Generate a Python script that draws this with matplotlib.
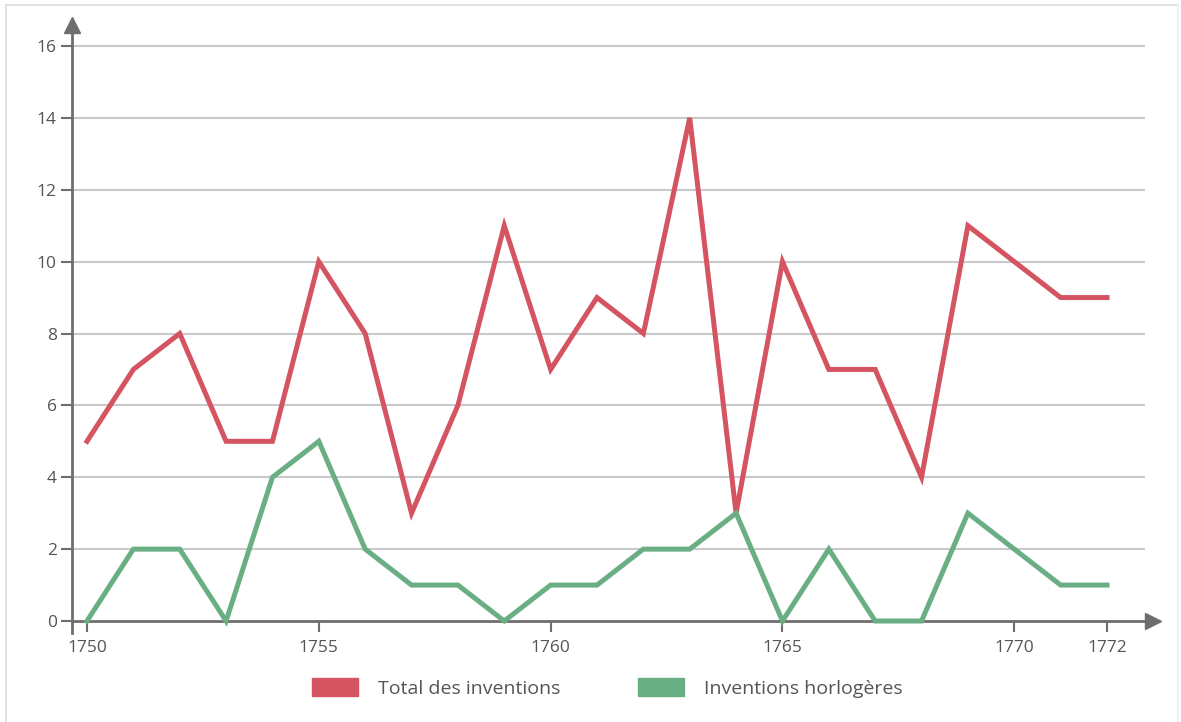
import numpy as np
import matplotlib.pyplot as plt
from matplotlib.patches import Patch
from matplotlib.lines import Line2D

# Données
annees = np.arange(1750, 1773)
total = [5, 7, 8, 5, 5, 10, 8, 3, 6, 11, 7, 9, 8, 14, 3, 10, 7, 7, 4, 11, 10, 9, 9]
horlogeres = [0, 2, 2, 0, 4, 5, 2, 1, 1, 0, 1, 1, 2, 2, 3, 0, 2, 0, 0, 3, 2, 1, 1]
xticks = [1750, 1755, 1760, 1765, 1770, 1772]
yticks = [0, 2, 4, 6, 8, 10, 12, 14, 16]

rouge = '#d45461'
vert = '#6aaf84'
gris = '#6e6e6e'
texte = '#555555'

plt.rcParams['font.family'] = ['Open Sans', 'DejaVu Sans']

W, H = 1181, 722
fig = plt.figure(figsize=(W / 100, H / 100), dpi=100)

# axes placés en pixels
x0, x1 = 72, 1153
y_bas, y_haut = 633, 25
ax = fig.add_axes([x0 / W, (H - y_bas) / H, (x1 - x0) / W, (y_bas - y_haut) / H])

px_an = (1107 - 87) / 22
px_unite = (621 - 46) / 16
ax.set_xlim(1750 - (87 - x0) / px_an, 1772 + (x1 - 1107) / px_an)
ax.set_ylim(-(y_bas - 621) / px_unite, (621 - y_haut) / px_unite)

# grille
xg = 1772 + (1145 - 1107) / px_an
ax.hlines(yticks[1:], ax.get_xlim()[0], xg, color='#c9c9c9', lw=1.5, zorder=1)

# courbes
ax.plot(annees, total, color=rouge, lw=3.6, solid_joinstyle='miter', zorder=3)
ax.plot(annees, horlogeres, color=vert, lw=3.6, solid_joinstyle='miter', zorder=3)

# axes avec flèches
for s in ['top', 'right', 'bottom']:
    ax.spines[s].set_visible(False)
ax.spines['left'].set_color(gris)
ax.spines['left'].set_linewidth(2)
ax.axhline(0, color=gris, lw=2, zorder=2)
ax.plot([1750 - (87 - x0) / px_an], [ax.get_ylim()[1]], marker='^', ms=11,
        color=gris, clip_on=False, zorder=4)
ax.plot([ax.get_xlim()[1]], [0], marker='>', ms=11, color=gris,
        clip_on=False, zorder=4)

ax.set_xticks(xticks)
ax.set_yticks(yticks)
ax.tick_params(axis='y', length=8, width=1.5, color=gris, labelcolor=texte,
               labelsize=12.5, pad=3)
ax.tick_params(axis='x', length=0, labelcolor=texte, labelsize=12.5, pad=5)
ax.vlines(xticks, -(y_bas - 621) / px_unite * 0.95, 0, color=gris, lw=1.5,
          clip_on=False)

# légende
handles = [Patch(color=rouge, label='Total des inventions'),
           Patch(color=vert, label='Inventions horlogères')]
fig.legend(handles=handles, loc='center', bbox_to_anchor=(0.514, 0.047),
           ncol=2, frameon=False, fontsize=14, labelcolor=texte,
           handlelength=2.4, handleheight=1.0, handletextpad=1.0,
           columnspacing=4.0)

# cadre gris clair
fig.add_artist(Line2D([6 / W, 6 / W], [0, 1 - 5 / H], color='#dddddd', lw=1.2))
fig.add_artist(Line2D([6 / W, 1178 / W], [1 - 5 / H, 1 - 5 / H], color='#dddddd', lw=1.2))
fig.add_artist(Line2D([1178 / W, 1178 / W], [0, 1 - 5 / H], color='#eeeeee', lw=1.2))

fig.savefig('out.png', dpi=100)
